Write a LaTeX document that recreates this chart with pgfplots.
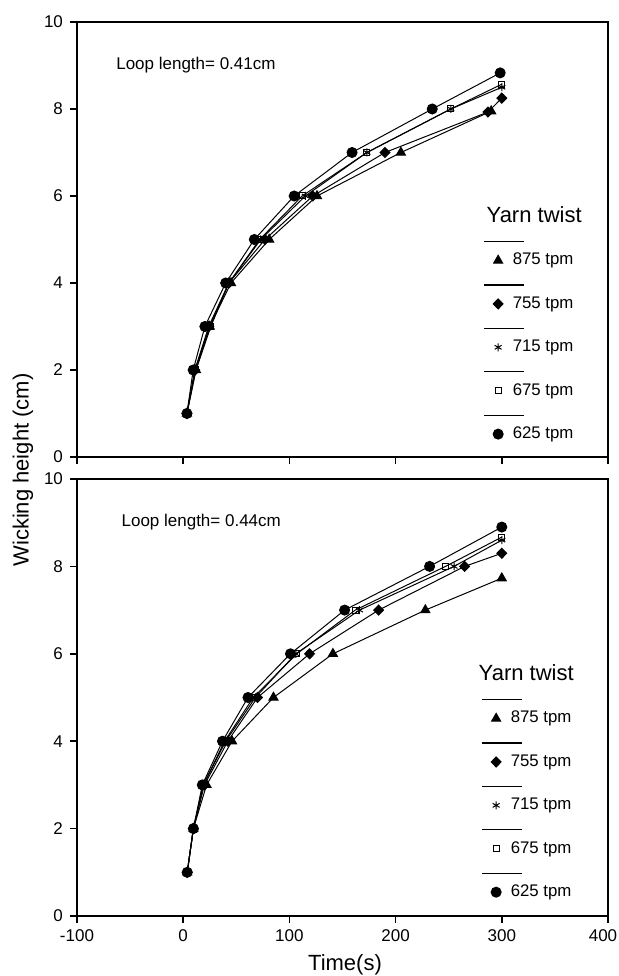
\documentclass[border=0pt]{standalone}
\usepackage{fontspec}
\setmainfont{Liberation Sans}
\usepackage{pgfplots}
\pgfplotsset{compat=1.18}

\pgfplotsset{
 panel/.style={
  scale only axis, width=265.5pt,
  xmin=-100, xmax=400, ymin=0, ymax=10,
  xtick={-100,0,100,200,300,400}, ytick={0,2,4,6,8,10},
  tick align=outside, xtick pos=left, ytick pos=left,
  major tick length=3.5pt,
  every tick/.style={black, line width=0.8pt},
  axis line style={line width=0.8pt},
  tick label style={font=\fontsize{8.5}{10}\selectfont},
  /pgf/number format/assume math mode=true,
  legend style={draw=none, fill=none, inner sep=0pt, row sep=13.7pt, column sep=4.8pt,
    nodes={inner sep=0pt, text height=6.2pt, text depth=1.8pt, font=\fontsize{8.4}{10}\selectfont}},
  legend cell align=left,
  legend image code/.code={
    \draw[overlay, black, line width=0.6pt] (-7pt,9.5pt) -- (13pt,9.5pt);
    \draw[##1] plot coordinates {(0pt,0pt)};
  },
  every axis plot/.append style={black, line width=0.5pt},
 },
 s875/.style={mark=triangle*, mark size=2.6pt, mark options={solid}},
 s755/.style={mark=diamond*, mark size=2.5pt, mark options={solid, xscale=1.3}},
 s715/.style={mark=asterisk, mark size=2pt, mark options={solid}},
 s675/.style={mark=square, mark size=1.5pt, mark options={solid, fill=white}},
 s625/.style={mark=*, mark size=2.5pt, mark options={solid}},
}

\begin{document}
\begin{tikzpicture}
\useasboundingbox (0,0) rectangle (309.5pt,488pt);

% ---------- top panel ----------
\begin{axis}[panel, height=217.5pt, at={(38.5pt,259.5pt)}, anchor=south west,
  xticklabels={},
  legend style={at={(axis cs:291.5,4.71)}, anchor=north west}]
\addplot[s875] coordinates {(3.5,1)(12,2)(25,3)(45,4)(81,5)(126,6)(205,7)(290,7.95)};
\addlegendentry{875 tpm}
\addplot[s755] coordinates {(3.5,1)(11,2)(24,3)(43,4)(77,5)(122,6)(190,7)(287,7.93)(300,8.25)};
\addlegendentry{755 tpm}
\addplot[s715] coordinates {(3.5,1)(11,2)(25,3)(43,4)(73,5)(115,6)(173,7)(252,8)(300,8.5)};
\addlegendentry{715 tpm}
\addplot[s675] coordinates {(3.5,1)(12,2)(26,3)(43,4)(72,5)(112,6)(173,7)(252,8)(300,8.57)};
\addlegendentry{675 tpm}
\addplot[s625] coordinates {(3.5,1)(9.4,2)(20.4,3)(40,4)(67,5)(104.5,6)(159,7)(234.5,8)(298.5,8.83)};
\addlegendentry{625 tpm}
\node[font=\fontsize{8.5}{10}\selectfont] at (axis cs:12,9.01) {Loop length= 0.41cm};
\node[font=\fontsize{11}{13}\selectfont] at (axis cs:330.5,5.56) {Yarn twist};
\end{axis}

% ---------- bottom panel ----------
\begin{axis}[panel, height=218.5pt, at={(38.5pt,30pt)}, anchor=south west,
  xticklabels={-100,0,100,200,300,{\kern-5pt 400}},
  legend style={at={(axis cs:289.6,4.71)}, anchor=north west}]
\addplot[s875] coordinates {(3.8,1)(9.6,2)(22,3)(46,4)(85,5)(141,6)(228,7)(300,7.73)};
\addlegendentry{875 tpm}
\addplot[s755] coordinates {(3.8,1)(9.6,2)(20,3)(42,4)(70,5)(119,6)(184,7)(265,8)(300,8.3)};
\addlegendentry{755 tpm}
\addplot[s715] coordinates {(3.8,1)(9.6,2)(19,3)(40,4)(68,5)(106,6)(166,7)(255,8)(300,8.6)};
\addlegendentry{715 tpm}
\addplot[s675] coordinates {(3.8,1)(9.6,2)(19,3)(39,4)(66,5)(107,6)(162,7)(247,8)(300,8.67)};
\addlegendentry{675 tpm}
\addplot[s625] coordinates {(3.8,1)(9.6,2)(18,3)(37,4)(61,5)(101,6)(152,7)(232,8)(300,8.9)};
\addlegendentry{625 tpm}
\node[font=\fontsize{8.5}{10}\selectfont] at (axis cs:17,9.02) {Loop length= 0.44cm};
\node[font=\fontsize{11}{13}\selectfont] at (axis cs:323,5.56) {Yarn twist};
\end{axis}

\node[rotate=90, font=\fontsize{11}{13}\selectfont] at (11.5pt,253pt) {Wicking height (cm)};
\node[font=\fontsize{11}{13}\selectfont] at (172.5pt,5.5pt) {Time(s)};
\end{tikzpicture}
\end{document}
